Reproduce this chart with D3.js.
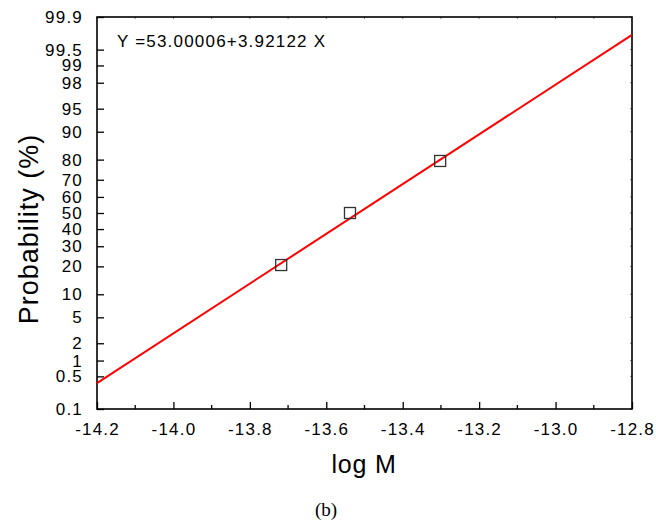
<!DOCTYPE html>
<html>
<head>
<meta charset="utf-8">
<script src="https://d3js.org/d3.v7.min.js"></script>
<style>
body { margin: 0; background: #fff; }
text { font-family: "Liberation Sans", Arial, sans-serif; }
</style>
</head>
<body>
<div class="container"></div>
<script>
var WIDTH = 656, HEIGHT = 525;
var LEFT = 97, RIGHT = 632, TOP = 17, BOTTOM = 409;

// data
var logM = [-13.718, -13.538, -13.302];
var probability = [20.6, 50, 79.4];
var fitIntercept = 53.00006, fitSlope = 3.92122;
var xTicks = [-14.2, -14.0, -13.8, -13.6, -13.4, -13.2, -13.0, -12.8];
var yTicks = [0.1, 0.5, 1, 2, 5, 10, 20, 30, 40, 50, 60, 70, 80, 90, 95, 98, 99, 99.5, 99.9];

// inverse normal cdf (Acklam)
var probit = function(p){
	var a = [-3.969683028665376e+01, 2.209460984245205e+02, -2.759285104469687e+02, 1.383577518672690e+02, -3.066479806614716e+01, 2.506628277459239e+00];
	var b = [-5.447609879822406e+01, 1.615858368580409e+02, -1.556989798598866e+02, 6.680131188771972e+01, -1.328068155288572e+01];
	var c = [-7.784894002430293e-03, -3.223964580411365e-01, -2.400758277161838e+00, -2.549732539343734e+00, 4.374664141464968e+00, 2.938163982698783e+00];
	var d = [7.784695709041462e-03, 3.224671290700398e-01, 2.445134137142996e+00, 3.754408661907416e+00];
	var q, r;
	if (p < 0.02425) {
		q = Math.sqrt(-2 * Math.log(p));
		return (((((c[0]*q+c[1])*q+c[2])*q+c[3])*q+c[4])*q+c[5]) / ((((d[0]*q+d[1])*q+d[2])*q+d[3])*q+1);
	}
	if (p > 1 - 0.02425) {
		q = Math.sqrt(-2 * Math.log(1 - p));
		return -(((((c[0]*q+c[1])*q+c[2])*q+c[3])*q+c[4])*q+c[5]) / ((((d[0]*q+d[1])*q+d[2])*q+d[3])*q+1);
	}
	q = p - 0.5; r = q * q;
	return (((((a[0]*r+a[1])*r+a[2])*r+a[3])*r+a[4])*r+a[5])*q / (((((b[0]*r+b[1])*r+b[2])*r+b[3])*r+b[4])*r+1);
}

var x = d3.scaleLinear().domain([-14.2, -12.8]).range([LEFT, RIGHT]);
var z = d3.scaleLinear().domain([probit(0.001), probit(0.999)]).range([BOTTOM, TOP]);
var y = function(pct){ return z(probit(pct / 100)); };

var svg = d3.select(".container").append("svg")
	.attr("width", WIDTH).attr("height", HEIGHT);

// x axis (bottom), ticks pointing inward
var xMinor = d3.range(-14.1, -12.8, 0.2);
var bottomAxis = d3.axisBottom(x).tickValues(xTicks)
	.tickSizeInner(-7).tickSizeOuter(0).tickPadding(14);
var gx = svg.append("g").attr("transform", "translate(0," + BOTTOM + ")").call(bottomAxis);
gx.select(".domain").remove();
gx.selectAll("text").attr("font-size", 17).attr("fill", "#000").attr("dy", "0.71em")
	.style("letter-spacing", "1.2px")
	.text(function(d){ return d.toFixed(1); });
gx.selectAll("line").attr("stroke", "#000").attr("stroke-width", 1.3);
svg.append("g").selectAll("line").data(xMinor).enter().append("line")
	.attr("x1", x).attr("x2", x).attr("y1", BOTTOM).attr("y2", BOTTOM - 4)
	.attr("stroke", "#000").attr("stroke-width", 1.3);

// y axis (left), ticks pointing inward
var leftAxis = d3.axisLeft(z).tickValues(yTicks.map(function(t){ return probit(t / 100); }))
	.tickSizeInner(-7).tickSizeOuter(0).tickPadding(14)
	.tickFormat(function(d, i){ return String(yTicks[i]); });
var gy = svg.append("g").attr("transform", "translate(" + LEFT + ",0)").call(leftAxis);
gy.select(".domain").remove();
gy.selectAll("text").attr("font-size", 17).attr("fill", "#000").style("letter-spacing", "1.2px");
gy.selectAll("line").attr("stroke", "#000").attr("stroke-width", 1.3);

// tiny ticks on top and right
svg.append("g").selectAll("line").data(xTicks.concat(xMinor)).enter().append("line")
	.attr("x1", x).attr("x2", x).attr("y1", TOP).attr("y2", TOP + 2)
	.attr("stroke", "#666").attr("stroke-width", 0.8);
svg.append("g").selectAll("line").data(yTicks).enter().append("line")
	.attr("x1", RIGHT).attr("x2", RIGHT - 2).attr("y1", y).attr("y2", y)
	.attr("stroke", "#666").attr("stroke-width", 0.8);

// frame
svg.append("rect")
	.attr("x", LEFT).attr("y", TOP).attr("width", RIGHT - LEFT).attr("height", BOTTOM - TOP)
	.attr("fill", "none").attr("stroke", "#000").attr("stroke-width", 1.6);

// fitted line
svg.append("path")
	.datum(x.domain())
	.attr("d", d3.line().x(function(d){ return x(d); }).y(function(d){ return z(fitIntercept + fitSlope * d); }))
	.attr("fill", "none").attr("stroke", "#ff0000").attr("stroke-width", 2);

// data points
svg.append("g").selectAll("rect").data(logM).enter().append("rect")
	.attr("x", function(d){ return x(d) - 5.5; })
	.attr("y", function(d, i){ return y(probability[i]) - 5.5; })
	.attr("width", 11).attr("height", 11)
	.attr("fill", "none").attr("stroke", "#333").attr("stroke-width", 1.3);

// labels
svg.append("text").attr("x", 117).attr("y", 47).attr("font-size", 17)
	.style("letter-spacing", "1.2px")
	.text("Y =53.00006+3.92122 X");
svg.append("text").attr("x", 364).attr("y", 473).attr("font-size", 25).attr("text-anchor", "middle")
	.style("letter-spacing", "0.8px")
	.text("log M");
svg.append("text").attr("transform", "translate(38,229) rotate(-90)")
	.attr("font-size", 27).attr("text-anchor", "middle")
	.style("letter-spacing", "1px")
	.text("Probability (%)");
svg.append("text").attr("x", 326).attr("y", 516).attr("font-size", 19).attr("text-anchor", "middle")
	.style("font-family", "'Liberation Serif', 'Times New Roman', serif")
	.text("(b)");
</script>
</body>
</html>
